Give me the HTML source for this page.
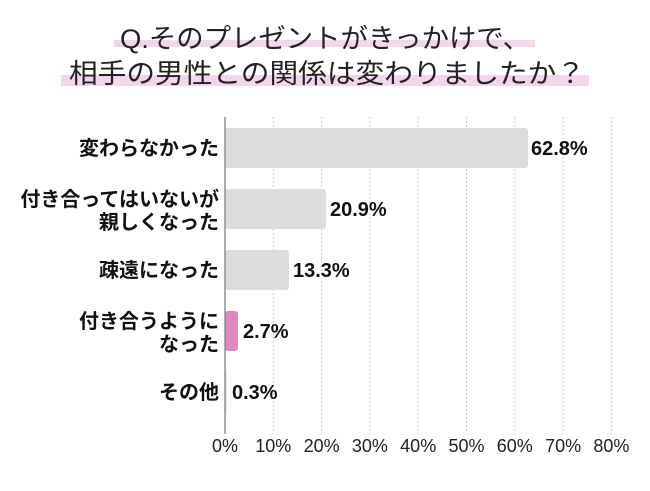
<!DOCTYPE html>
<html><head><meta charset="utf-8"><style>
body{margin:0;background:#fff;}
svg text{font-family:"Liberation Sans","Noto Sans CJK JP",sans-serif;}
</style></head><body>
<svg width="650" height="486" xmlns="http://www.w3.org/2000/svg">
<rect x="114" y="40" width="421" height="7" fill="#f3d6ea"/>
<rect x="61" y="75" width="528" height="11" fill="#f3d6ea"/>
<text x="120" y="48" font-size="27" textLength="410" lengthAdjust="spacingAndGlyphs" fill="#222">Q.そのプレゼントがきっかけで、</text>
<text x="69" y="83" font-size="27" textLength="516" lengthAdjust="spacingAndGlyphs" fill="#222">相手の男性との関係は変わりましたか？</text>
<g stroke="#ccc" stroke-dasharray="2,2" stroke-width="1">
<line x1="273.3" y1="117" x2="273.3" y2="434"/><line x1="321.6" y1="117" x2="321.6" y2="434"/>
<line x1="369.9" y1="117" x2="369.9" y2="434"/><line x1="418.2" y1="117" x2="418.2" y2="434"/>
<line x1="466.5" y1="117" x2="466.5" y2="434"/><line x1="514.8" y1="117" x2="514.8" y2="434"/>
<line x1="563.1" y1="117" x2="563.1" y2="434"/><line x1="611.4" y1="117" x2="611.4" y2="434"/>
</g>
<g fill="#dcdcdc">
<rect x="225" y="128" width="303" height="40" rx="3"/>
<rect x="225" y="189" width="101" height="40" rx="3"/>
<rect x="225" y="250" width="64" height="40" rx="3"/>
<rect x="225" y="372" width="1.5" height="40"/>
</g>
<rect x="225" y="311" width="13" height="40" rx="3" fill="#e086c3"/>
<line x1="225" y1="117" x2="225" y2="434" stroke="#777" stroke-width="1.2"/>
<g font-size="20" font-weight="bold" fill="#111">
<text x="531" y="155">62.8%</text>
<text x="330" y="216">20.9%</text>
<text x="293" y="277">13.3%</text>
<text x="243" y="338">2.7%</text>
<text x="232" y="399">0.3%</text>
</g>
<g font-size="20" font-weight="bold" fill="#111" text-anchor="end">
<text x="219" y="155">変わらなかった</text>
<text x="219" y="206">付き合ってはいないが</text>
<text x="219" y="229">親しくなった</text>
<text x="219" y="277">疎遠になった</text>
<text x="219" y="328">付き合うように</text>
<text x="219" y="351">なった</text>
<text x="219" y="399">その他</text>
</g>
<g font-size="18" fill="#222" text-anchor="middle">
<text x="225" y="452">0%</text><text x="273.3" y="452">10%</text><text x="321.6" y="452">20%</text>
<text x="369.9" y="452">30%</text><text x="418.2" y="452">40%</text><text x="466.5" y="452">50%</text>
<text x="514.8" y="452">60%</text><text x="563.1" y="452">70%</text><text x="611.4" y="452">80%</text>
</g>
</svg>
</body></html>
